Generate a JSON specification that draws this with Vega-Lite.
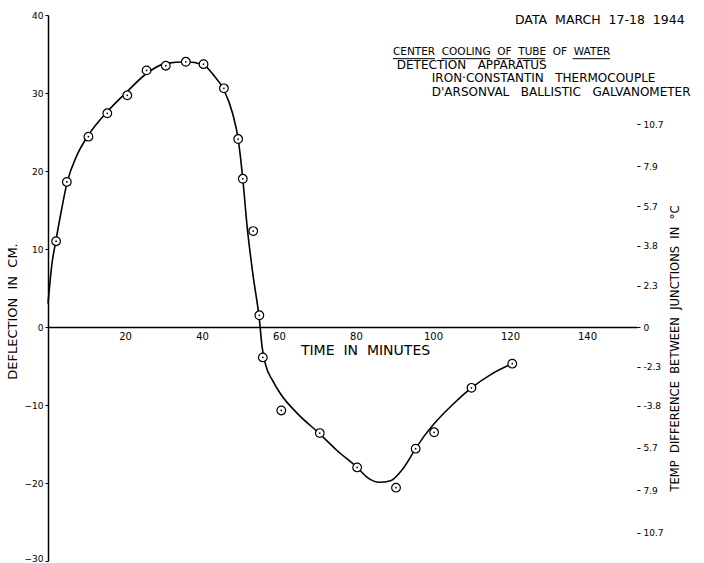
{
  "$schema": "https://vega.github.io/schema/vega-lite/v6.json",
  "width": 589,
  "height": 546,
  "autosize": {"type": "none"},
  "padding": {"left": 48, "top": 15, "right": 67, "bottom": 2},
  "background": "white",
  "config": {
    "view": {"stroke": null},
    "font": "DejaVu Sans",
    "axis": {
      "domainColor": "black",
      "domainWidth": 1.5,
      "tickColor": "black",
      "labelColor": "black",
      "titleColor": "black",
      "labelFont": "DejaVu Sans",
      "titleFont": "DejaVu Sans",
      "titleFontWeight": "normal",
      "grid": false
    }
  },
  "datasets": {
    "points": [
      {"t": 2.1, "d": 11.0}, {"t": 4.9, "d": 18.6}, {"t": 10.5, "d": 24.4}, {"t": 15.4, "d": 27.4},
      {"t": 20.6, "d": 29.7}, {"t": 25.6, "d": 32.9}, {"t": 30.6, "d": 33.5}, {"t": 35.8, "d": 34.0},
      {"t": 40.4, "d": 33.7}, {"t": 45.7, "d": 30.6}, {"t": 49.4, "d": 24.1}, {"t": 50.6, "d": 19.0},
      {"t": 53.3, "d": 12.3}, {"t": 54.9, "d": 1.5}, {"t": 55.8, "d": -3.9}, {"t": 60.6, "d": -10.7},
      {"t": 70.6, "d": -13.6}, {"t": 80.3, "d": -18.0}, {"t": 90.4, "d": -20.6}, {"t": 95.5, "d": -15.6},
      {"t": 100.3, "d": -13.5}, {"t": 110.0, "d": -7.8}, {"t": 120.6, "d": -4.7}
    ],
    "curve": [
      {"t": 0, "d": 3}, {"t": 1, "d": 8}, {"t": 2.1, "d": 11.2}, {"t": 3.5, "d": 15}, {"t": 5, "d": 18.6},
      {"t": 7.5, "d": 22}, {"t": 10.5, "d": 24.6}, {"t": 15.4, "d": 27.6}, {"t": 20.6, "d": 30.2},
      {"t": 25.6, "d": 32.5}, {"t": 30.6, "d": 33.8}, {"t": 35.8, "d": 34.0}, {"t": 40.4, "d": 33.6},
      {"t": 43, "d": 32.3}, {"t": 45.7, "d": 30.4}, {"t": 48, "d": 27.3}, {"t": 49.4, "d": 24.1},
      {"t": 50.6, "d": 19.0}, {"t": 51.7, "d": 13.0}, {"t": 53.3, "d": 6.5}, {"t": 54.9, "d": 1.0},
      {"t": 55.6, "d": -2.5}, {"t": 56.5, "d": -4.8}, {"t": 58.4, "d": -6.9}, {"t": 60.3, "d": -8.5},
      {"t": 65, "d": -11.2}, {"t": 70.6, "d": -13.7}, {"t": 75, "d": -15.8}, {"t": 80.3, "d": -18.0},
      {"t": 83, "d": -19.3}, {"t": 86, "d": -19.9}, {"t": 89, "d": -19.7}, {"t": 92, "d": -18.3},
      {"t": 95.5, "d": -15.6}, {"t": 98, "d": -13.8}, {"t": 100.3, "d": -12.4}, {"t": 105, "d": -10.0},
      {"t": 110, "d": -7.8}, {"t": 115, "d": -6.1}, {"t": 120.6, "d": -4.7}
    ],
    "notes": [
      {"t": 121.3, "d": 39.4, "kind": "date", "text": "DATA\u00a0\u00a0MARCH\u00a0\u00a017-18\u00a0\u00a01944"},
      {"t": 89.6, "d": 35.3, "kind": "title", "text": "CENTER\u00a0\u00a0COOLING\u00a0\u00a0OF\u00a0\u00a0TUBE\u00a0\u00a0OF\u00a0\u00a0WATER"},
      {"t": 90.6, "d": 33.53, "kind": "detail", "text": "DETECTION\u00a0\u00a0\u00a0APPARATUS"},
      {"t": 99.7, "d": 31.86, "kind": "detail", "text": "IRON·CONSTANTIN\u00a0\u00a0\u00a0THERMOCOUPLE"},
      {"t": 99.7, "d": 30.19, "kind": "detail", "text": "D'ARSONVAL\u00a0\u00a0\u00a0BALLISTIC\u00a0\u00a0\u00a0GALVANOMETER"}
    ],
    "underlines": [
      {"t1": 89.6, "t2": 100.5, "d": 34.4},
      {"t1": 102.2, "t2": 114.8, "d": 34.4},
      {"t1": 116.5, "t2": 120.2, "d": 34.4},
      {"t1": 121.9, "t2": 129.1, "d": 34.4},
      {"t1": 136.3, "t2": 146.0, "d": 34.4}
    ]
  },
  "layer": [
    {
      "layer": [
        {
          "data": {"name": "curve"},
          "mark": {"type": "line", "color": "black", "strokeWidth": 1.6, "interpolate": "monotone"},
          "encoding": {
            "x": {
              "field": "t", "type": "quantitative",
              "scale": {"domain": [0, 153], "nice": false, "zero": false},
              "axis": {
                "orient": "bottom", "offset": -234,
                "values": [20, 40, 60, 80, 100, 120, 140],
                "ticks": false, "labelPadding": 4, "labelFontSize": 10,
                "title": "TIME\u00a0\u00a0IN\u00a0\u00a0MINUTES", "titleFontSize": 14,
                "titleX": 317, "titleY": 16, "titleAlign": "center", "titleBaseline": "top"
              }
            },
            "y": {
              "field": "d", "type": "quantitative",
              "scale": {"domain": [-30, 40], "nice": false, "zero": false},
              "axis": {
                "orient": "left",
                "values": [-30, -20, -10, 0, 10, 20, 30, 40],
                "tickSize": 3, "labelPadding": 2, "labelFontSize": 9,
                "labelBaseline": {"condition": {"test": "datum.value == -30", "value": "alphabetic"}, "value": "middle"},
                "title": "DEFLECTION\u00a0\u00a0IN\u00a0\u00a0CM.", "titleFontSize": 13,
                "titleAngle": 270, "titleX": -36, "titleY": 296,
                "titleAlign": "center", "titleBaseline": "middle"
              }
            }
          }
        },
        {
          "data": {"name": "points"},
          "mark": {"type": "point", "shape": "circle", "filled": true, "fill": "white", "stroke": "black", "strokeWidth": 1.2, "size": 75, "opacity": 1},
          "encoding": {
            "x": {"field": "t", "type": "quantitative"},
            "y": {"field": "d", "type": "quantitative"}
          }
        },
        {
          "data": {"name": "points"},
          "mark": {"type": "point", "shape": "circle", "filled": true, "color": "black", "size": 3, "opacity": 1},
          "encoding": {
            "x": {"field": "t", "type": "quantitative"},
            "y": {"field": "d", "type": "quantitative"}
          }
        },
        {
          "data": {"name": "notes"},
          "transform": [{"filter": "datum.kind == 'date'"}],
          "mark": {"type": "text", "align": "left", "baseline": "middle", "color": "black", "font": "DejaVu Sans", "fontSize": 12.5},
          "encoding": {
            "x": {"field": "t", "type": "quantitative"},
            "y": {"field": "d", "type": "quantitative"},
            "text": {"field": "text"}
          }
        },
        {
          "data": {"name": "notes"},
          "transform": [{"filter": "datum.kind == 'title'"}],
          "mark": {"type": "text", "align": "left", "baseline": "middle", "color": "black", "font": "DejaVu Sans", "fontSize": 10.5},
          "encoding": {
            "x": {"field": "t", "type": "quantitative"},
            "y": {"field": "d", "type": "quantitative"},
            "text": {"field": "text"}
          }
        },
        {
          "data": {"name": "notes"},
          "transform": [{"filter": "datum.kind == 'detail'"}],
          "mark": {"type": "text", "align": "left", "baseline": "middle", "color": "black", "font": "DejaVu Sans", "fontSize": 12},
          "encoding": {
            "x": {"field": "t", "type": "quantitative"},
            "y": {"field": "d", "type": "quantitative"},
            "text": {"field": "text"}
          }
        },
        {
          "data": {"name": "underlines"},
          "mark": {"type": "rule", "color": "black", "strokeWidth": 1},
          "encoding": {
            "x": {"field": "t1", "type": "quantitative"},
            "x2": {"field": "t2"},
            "y": {"field": "d", "type": "quantitative"}
          }
        }
      ]
    },
    {
      "mark": {"type": "rule", "color": "black", "strokeWidth": 1.5},
      "encoding": {
        "x": {"datum": 153, "type": "quantitative", "scale": {"domain": [0, 153], "nice": false, "zero": false}},
        "y": {
          "datum": -30, "type": "quantitative",
          "scale": {"domain": [-30, 40], "nice": false, "zero": false},
          "axis": {
            "orient": "right", "domain": false,
            "values": [26, 20.6, 15.5, 10.4, 5.3, 0, -5.1, -10.1, -15.5, -20.9, -26.4],
            "labelExpr": "datum.value > 23 ? '10.7' : datum.value > 18 ? '7.9' : datum.value > 13 ? '5.7' : datum.value > 8 ? '3.8' : datum.value > 3 ? '2.3' : datum.value > -2 ? '0' : datum.value > -7 ? '-2.3' : datum.value > -12 ? '-3.8' : datum.value > -18 ? '5.7' : datum.value > -23 ? '7.9' : '10.7'",
            "tickSize": 3, "labelPadding": 3, "labelFontSize": 9,
            "title": "TEMP\u00a0\u00a0DIFFERENCE\u00a0\u00a0BETWEEN\u00a0\u00a0JUNCTIONS\u00a0\u00a0IN\u00a0\u00a0°C", "titleFontSize": 11.5,
            "titleAngle": 270, "titleX": 38, "titleY": 333,
            "titleAlign": "center", "titleBaseline": "middle"
          }
        },
        "y2": {"datum": 27.6}
      }
    }
  ],
  "resolve": {"scale": {"y": "independent"}}
}
